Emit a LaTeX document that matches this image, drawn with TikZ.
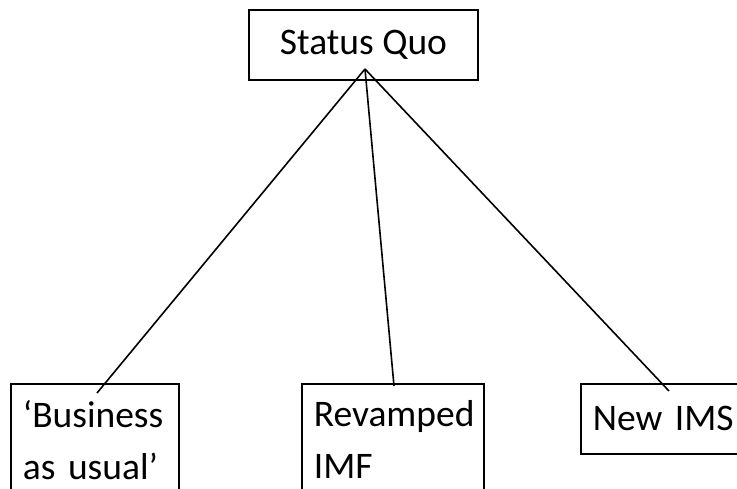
\documentclass[tikz,border=0pt]{standalone}
\usepackage{fontspec}
\setmainfont{Carlito}

\tikzset{
  box/.style={draw, line width=1.8pt, inner xsep=12pt, inner ysep=17pt, align=left, anchor=north west, font=\fontsize{37.5}{52}\selectfont},
  link/.style={line width=1.6pt}
}

\begin{document}
\begin{tikzpicture}[x=1pt, y=-1pt]
    \clip (0,0) rectangle (737,488);

    \node[box, anchor=center, align=center, minimum width=229pt, minimum height=70pt] (sq) at (363.5,45) {Status Quo};

    \node[box, text width=144pt] (bau) at (10,383) {‘Business\\as usual’};
    \node[box, text width=158pt] (imf) at (301,383) {Revamped\\IMF};
    \node[box, text width=150pt, minimum height=70pt] (ims) at (580,383) {New IMS};

    % where the lines meet
    \coordinate (hub) at (365,69);
    \coordinate (bau-end) at (97,393);
    \coordinate (imf-end) at (394,386);
    \coordinate (ims-end) at (669,391);

    \draw[link] (hub) -- (bau-end);
    \draw[link] (hub) -- (imf-end);
    \draw[link] (hub) -- (ims-end);
\end{tikzpicture}
\end{document}
